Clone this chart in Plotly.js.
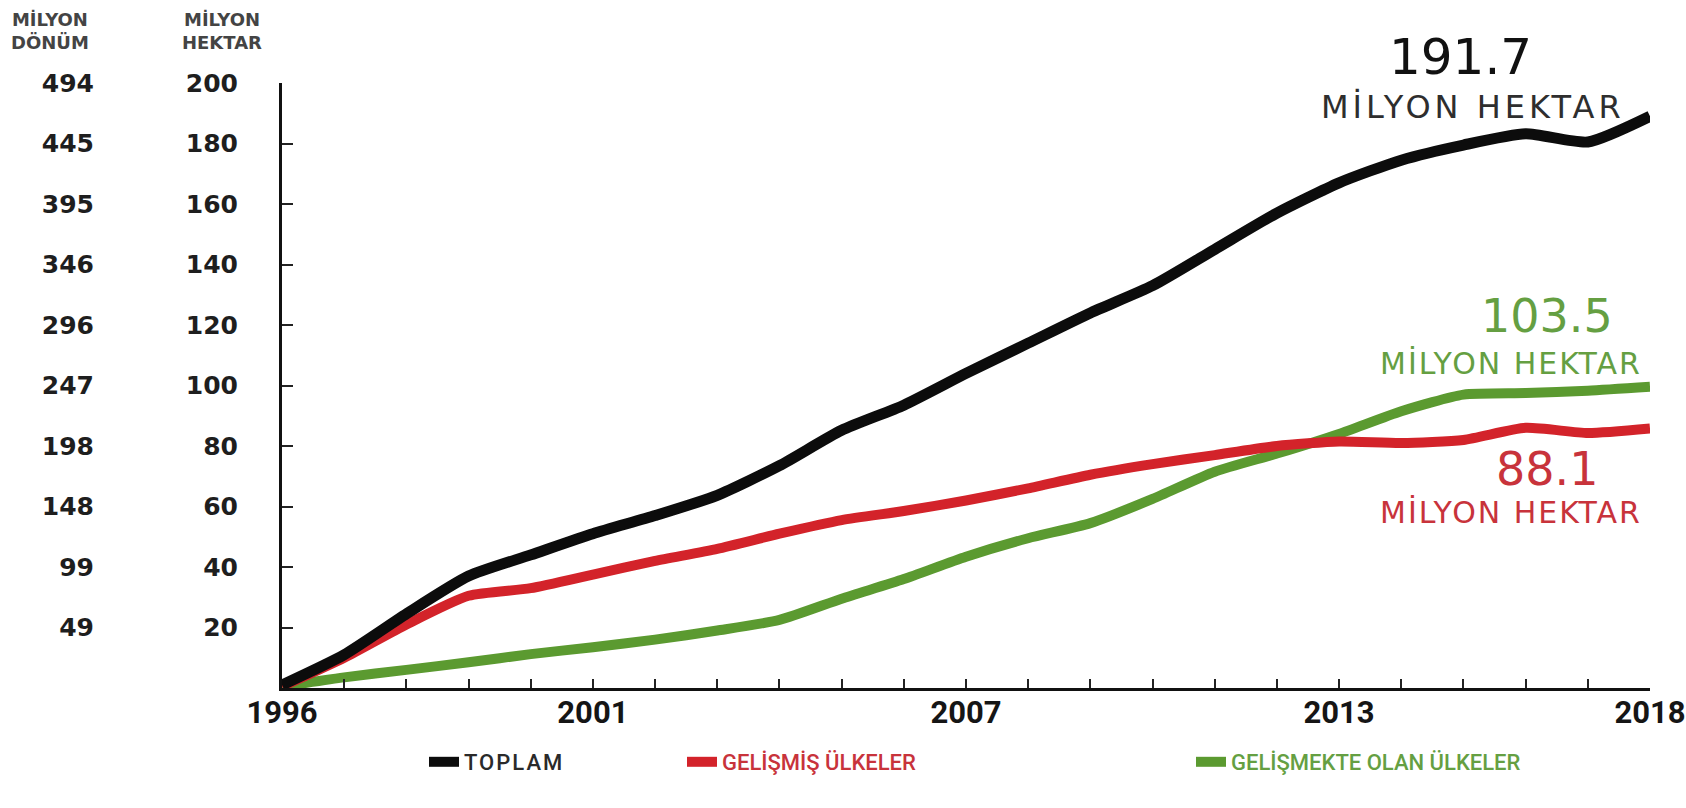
<!DOCTYPE html>
<html>
<head>
<meta charset="utf-8">
<script src="https://cdn.plot.ly/plotly-3.0.1.min.js"></script>
<style>
  html, body { margin: 0; padding: 0; background: #ffffff; }
  #chart { width: 1686px; height: 808px; }
  .legendtext { letter-spacing: 2px; }
</style>
</head>
<body>
<div id="chart"></div>
<script>
// ---- Data ----
const years = [1996, 1997, 1998, 1999, 2000, 2001, 2002, 2003, 2004, 2005, 2006, 2007,
               2008, 2009, 2010, 2011, 2012, 2013, 2014, 2015, 2016, 2017, 2018];
const toplam = [1, 11, 24.5, 37, 44, 51, 57, 63.7, 73.5, 85.2, 93.5, 104,
                114, 124, 133, 145, 157, 167, 174.5, 179.5, 183.2, 180.5, 189];
const gelismis = [0.5, 10, 21, 30.5, 33, 37.5, 42, 46, 51, 55.5, 58.5, 62,
                  66, 70.5, 74, 77, 80, 81.5, 81, 82, 86, 84.3, 85.8];
const gelismekte = [0.5, 3.5, 6, 8.5, 11.2, 13.5, 16, 19, 22.5, 29.5, 36, 43.4,
                    49.5, 54.5, 62.5, 71.5, 77.5, 84, 91.5, 97, 97.5, 98.3, 99.6];

const seriesNames = ["TOPLAM", "GELİŞMİŞ ÜLKELER", "GELİŞMEKTE OLAN ÜLKELER"];

const xTickVals = [1996, 2001, 2007, 2013, 2018];
const xTickText = ["1996", "2001", "2007", "2013", "2018"];

const hektarTicks = [20, 40, 60, 80, 100, 120, 140, 160, 180, 200];
const donumTickText = ["49", "99", "148", "198", "247", "296", "346", "395", "445", "494"];

const endValues = ["191.7", "103.5", "88.1"];
const unitLabel = "MİLYON HEKTAR";

// ---- Styles ----
const cBlack = "#0c0c0c";
const cRed = "#d3232a";
const cGreen = "#5b9a30";
const cRedText = "#c8333b";
const cGreenText = "#659f42";

// The total (black) series is plotted against the twin dönüm/hektar axis (same 0-200 hectare range),
// which also keeps it drawn on top like in the reference.
const traces = [
  {
    x: years, y: gelismekte, name: seriesNames[2], type: "scatter", mode: "lines",
    line: { color: cGreen, width: 10, shape: "spline", smoothing: 0.6 },
    legend: "legend3", hoverinfo: "x+y"
  },
  {
    x: years, y: gelismis, name: seriesNames[1], type: "scatter", mode: "lines",
    line: { color: cRed, width: 10, shape: "spline", smoothing: 0.6 },
    legend: "legend2", hoverinfo: "x+y"
  },
  {
    x: years, y: toplam, name: seriesNames[0], type: "scatter", mode: "lines", yaxis: "y2",
    line: { color: cBlack, width: 11, shape: "spline", smoothing: 0.6 },
    legend: "legend", hoverinfo: "x+y"
  }
];

const ML = 60, MR = 36, MT = 83, MB = 120, W = 1686, H = 808;
const PW = W - ML - MR;
const PH = H - MT - MB;
const px = (fx) => (fx - ML) / PW;          // full-pixel x -> paper x
const py = (fy) => (H - MB - fy) / PH;      // full-pixel y -> paper y
const plotLeft = 282;

const legendFont = { family: "Roboto, 'Liberation Sans', sans-serif", size: 22, weight: 500 };
const tickFont = { family: "'DejaVu Sans', sans-serif", size: 25, weight: "bold", color: "#1e1e1e" };

const layout = {
  width: W, height: H,
  margin: { l: ML, r: MR, t: MT, b: MB, pad: 0 },
  paper_bgcolor: "#ffffff",
  plot_bgcolor: "#ffffff",
  showlegend: true,
  xaxis: {
    domain: [px(plotLeft), 1],
    range: [1996, 2018],
    tickmode: "array",
    tickvals: xTickVals,
    ticktext: xTickText,
    ticks: "inside", ticklen: 9, tickwidth: 2, tickcolor: "#222",
    minor: { tickmode: "linear", tick0: 1996, dtick: 1, ticks: "inside", ticklen: 9, tickwidth: 2, tickcolor: "#222" },
    showline: true, linewidth: 3, linecolor: "#111",
    showgrid: false, zeroline: false,
    ticklabelstandoff: -5,
    ticklabeloverflow: "allow",
    tickfont: { family: "'Liberation Sans Narrow', Roboto, sans-serif", size: 31, weight: "bold", color: "#151515" },
    fixedrange: true
  },
  yaxis: {
    range: [0, 200],
    tickmode: "array",
    tickvals: hektarTicks,
    ticks: "inside", ticklen: 11, tickwidth: 2, tickcolor: "#222",
    showline: true, linewidth: 3, linecolor: "#111",
    showgrid: false, zeroline: false,
    ticklabelstandoff: 36,
    tickfont: tickFont,
    fixedrange: true
  },
  yaxis2: {
    overlaying: "y",
    anchor: "free",
    side: "left",
    position: px(94),
    range: [0, 200],
    tickmode: "array",
    tickvals: hektarTicks,
    ticktext: donumTickText,
    ticks: "", showline: false, showgrid: false, zeroline: false,
    tickfont: tickFont,
    fixedrange: true
  },
  legend: {
    x: px(424), y: py(762), xanchor: "left", yanchor: "middle",
    orientation: "h", bgcolor: "rgba(0,0,0,0)",
    font: Object.assign({}, legendFont, { color: "#2a2a2a" })
  },
  legend2: {
    x: px(682), y: py(762), xanchor: "left", yanchor: "middle",
    orientation: "h", bgcolor: "rgba(0,0,0,0)",
    font: Object.assign({}, legendFont, { color: cRedText })
  },
  legend3: {
    x: px(1191), y: py(762), xanchor: "left", yanchor: "middle",
    orientation: "h", bgcolor: "rgba(0,0,0,0)",
    font: Object.assign({}, legendFont, { color: cGreenText })
  },
  annotations: [
    { text: "MİLYON<br>DÖNÜM", xref: "paper", yref: "paper", x: px(50), y: py(31),
      xanchor: "center", yanchor: "middle", showarrow: false, align: "center",
      font: { family: "'DejaVu Sans', sans-serif", size: 18, weight: "bold", color: "#444444" } },
    { text: "MİLYON<br>HEKTAR", xref: "paper", yref: "paper", x: px(222), y: py(31),
      xanchor: "center", yanchor: "middle", showarrow: false, align: "center",
      font: { family: "'DejaVu Sans', sans-serif", size: 18, weight: "bold", color: "#444444" } },

    { text: endValues[0], xref: "paper", yref: "paper", x: px(1460), y: py(57),
      xanchor: "center", yanchor: "middle", showarrow: false,
      font: { family: "'DejaVu Sans', sans-serif", size: 50, weight: 500, color: "#111111" } },
    { text: '<span style="letter-spacing:4px">' + unitLabel + '</span>', xref: "paper", yref: "paper",
      x: px(1473), y: py(107), xanchor: "center", yanchor: "middle", showarrow: false,
      font: { family: "'DejaVu Sans', sans-serif", size: 32, color: "#2e2e2e" } },

    { text: endValues[1], xref: "paper", yref: "paper", x: px(1547), y: py(316),
      xanchor: "center", yanchor: "middle", showarrow: false,
      font: { family: "'DejaVu Sans', sans-serif", size: 46, weight: 500, color: cGreenText } },
    { text: '<span style="letter-spacing:2px">' + unitLabel + '</span>', xref: "paper", yref: "paper",
      x: px(1511), y: py(363), xanchor: "center", yanchor: "middle", showarrow: false,
      font: { family: "'DejaVu Sans', sans-serif", size: 30, color: cGreenText } },

    { text: endValues[2], xref: "paper", yref: "paper", x: px(1547), y: py(469),
      xanchor: "center", yanchor: "middle", showarrow: false,
      font: { family: "'DejaVu Sans', sans-serif", size: 46, weight: 500, color: cRedText } },
    { text: '<span style="letter-spacing:2px">' + unitLabel + '</span>', xref: "paper", yref: "paper",
      x: px(1511), y: py(512), xanchor: "center", yanchor: "middle", showarrow: false,
      font: { family: "'DejaVu Sans', sans-serif", size: 30, color: cRedText } }
  ]
};

Plotly.newPlot("chart", traces, layout, { displayModeBar: false, staticPlot: true });
</script>
</body>
</html>
